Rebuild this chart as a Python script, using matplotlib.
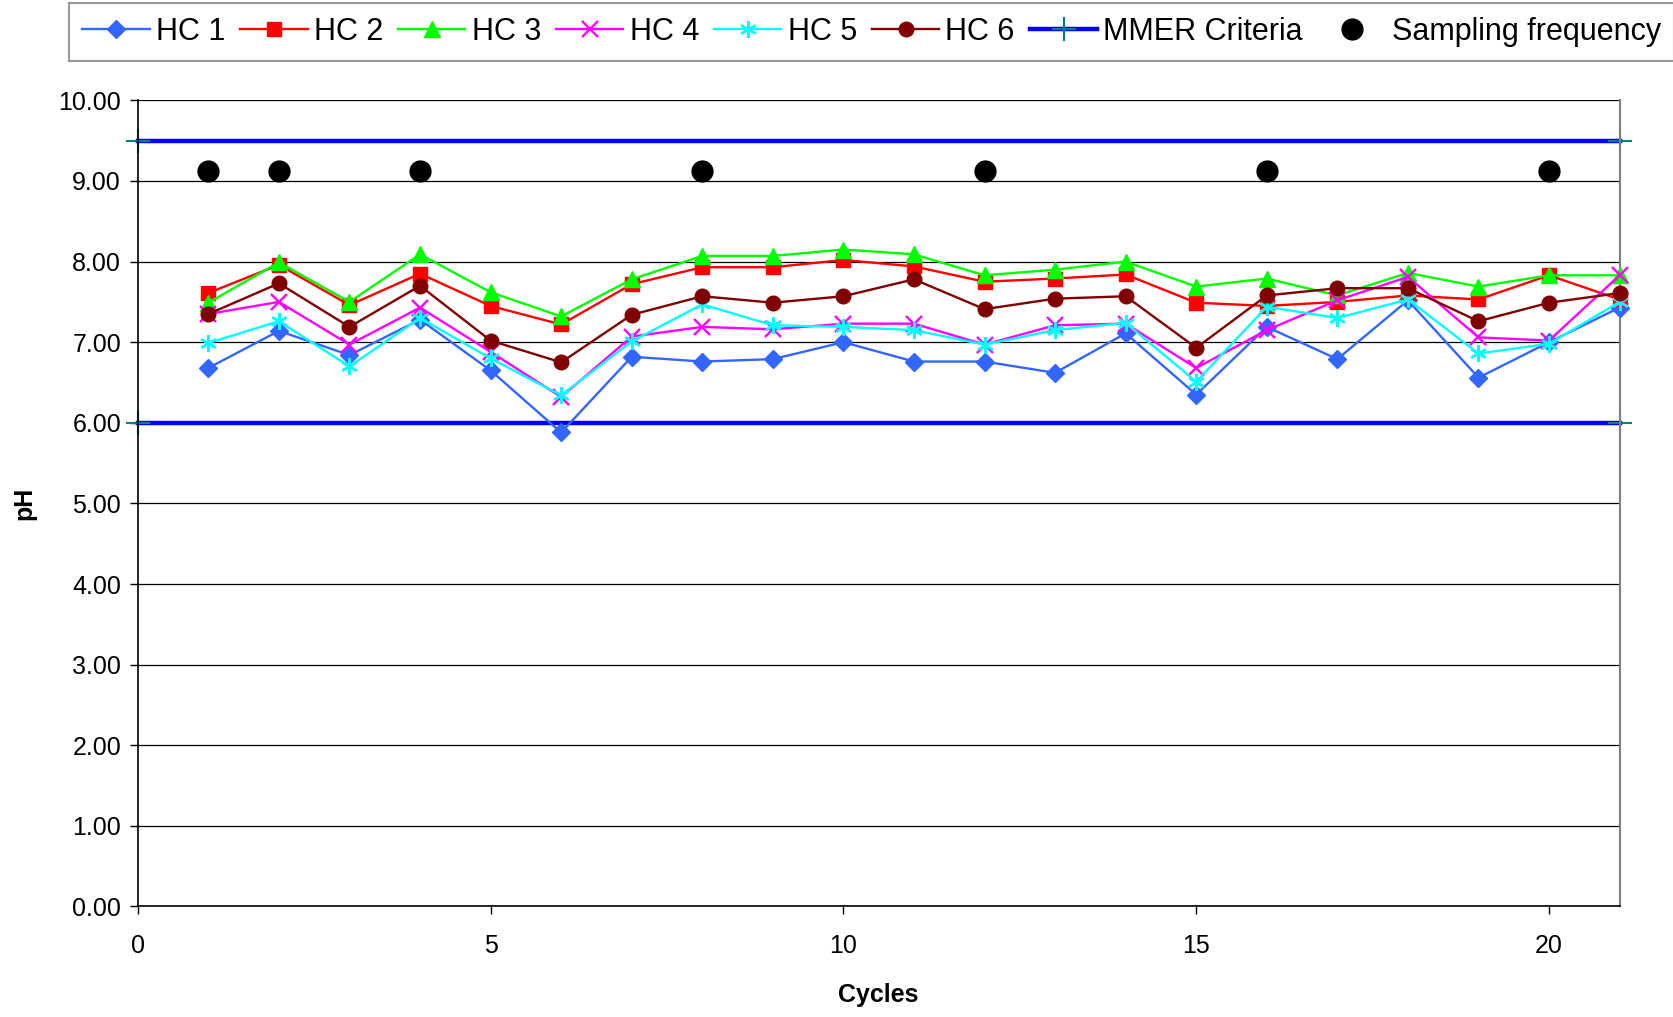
import numpy as np
import matplotlib
matplotlib.use("Agg")
import matplotlib.pyplot as plt

plt.rcParams['font.family'] = ['Liberation Sans', 'DejaVu Sans']

cycles = list(range(1, 22))
hc1 = [6.68, 7.14, 6.84, 7.28, 6.65, 5.88, 6.82, 6.76, 6.79, 7.00, 6.76, 6.76, 6.62, 7.11, 6.35, 7.19, 6.79, 7.52, 6.56, 7.00, 7.43]
hc2 = [7.61, 7.96, 7.46, 7.85, 7.45, 7.22, 7.72, 7.93, 7.93, 8.02, 7.94, 7.75, 7.79, 7.84, 7.49, 7.45, 7.50, 7.58, 7.53, 7.83, 7.53]
hc3 = [7.49, 7.99, 7.50, 8.09, 7.62, 7.32, 7.78, 8.07, 8.07, 8.15, 8.09, 7.83, 7.90, 8.00, 7.69, 7.79, 7.58, 7.86, 7.69, 7.83, 7.83]
hc4 = [7.35, 7.50, 6.97, 7.43, 6.88, 6.32, 7.07, 7.19, 7.16, 7.23, 7.23, 6.97, 7.21, 7.23, 6.68, 7.15, 7.52, 7.81, 7.06, 7.02, 7.83]
hc5 = [6.99, 7.26, 6.70, 7.30, 6.80, 6.34, 7.01, 7.47, 7.21, 7.19, 7.15, 6.97, 7.15, 7.24, 6.51, 7.44, 7.30, 7.53, 6.86, 6.98, 7.50]
hc6 = [7.35, 7.73, 7.19, 7.70, 7.02, 6.75, 7.34, 7.57, 7.49, 7.57, 7.78, 7.41, 7.54, 7.57, 6.93, 7.58, 7.67, 7.67, 7.26, 7.49, 7.61]

mmer_x = [0, 21, np.nan, 0, 21]
mmer_y = [9.5, 9.5, np.nan, 6.0, 6.0]

sampling_x = [1, 2, 4, 8, 12, 16, 20]
sampling_y = [9.12] * 7

series_labels = ['HC 1', 'HC 2', 'HC 3', 'HC 4', 'HC 5', 'HC 6']
y_ticks = [0, 1, 2, 3, 4, 5, 6, 7, 8, 9, 10]
x_ticks = [0, 5, 10, 15, 20]

fig = plt.figure(figsize=(16.74, 10.17), dpi=100)
ax = fig.add_axes([0.0823, 0.1087, 0.9675 - 0.0823, 0.9013 - 0.1087])

styles = [
    dict(color='#3366FF', marker='D', ms=9.5),
    dict(color='#FF0000', marker='s', ms=9.5),
    dict(color='#00FF00', marker='^', ms=11),
    dict(color='#FF00FF', marker='x', ms=11, mew=1.7),
    dict(color='#00FFFF', marker=(6, 2, 0), ms=12, mew=1.7),
    dict(color='#800000', marker='o', ms=10.5),
]
data = [hc1, hc2, hc3, hc4, hc5, hc6]
for d, lab, st in zip(data, series_labels, styles):
    ax.plot(cycles, d, label=lab, lw=1.7, clip_on=False, zorder=3, **st)

ax.plot(mmer_x, mmer_y, color='#0000FF', lw=3.2, marker='+', ms=17, mew=1.5,
        mec='#008080', label='MMER Criteria', clip_on=False, zorder=2.5)
ax.plot(sampling_x, sampling_y, ls='none', marker='o', ms=15, color='black',
        label='Sampling frequency', zorder=4)

ax.set_xlim(0, 21)
ax.set_ylim(0, 10)
ax.set_yticks(y_ticks)
ax.set_yticklabels([f'{v:.2f}' for v in y_ticks])
ax.set_xticks(x_ticks)
ax.yaxis.grid(True, color='black', lw=0.9)
ax.set_axisbelow(True)
for s in ['left', 'bottom']:
    ax.spines[s].set_color('black')
    ax.spines[s].set_linewidth(1.2)
ax.spines['top'].set_visible(False)
ax.spines['right'].set_color('#808080')
ax.spines['right'].set_linewidth(1.5)
ax.tick_params(axis='both', labelsize=18, length=6, width=1, direction='out', colors='black')
ax.tick_params(axis='x', pad=14)
ax.tick_params(axis='y', pad=6)

ax.set_xlabel('Cycles', fontsize=18, fontweight='bold', labelpad=18)
ax.set_ylabel('pH', fontsize=18, fontweight='bold', labelpad=16)

leg = fig.legend(loc='upper left', bbox_to_anchor=(0.041, 0.997), ncol=8,
                 fontsize=22, frameon=True, fancybox=False, edgecolor='#808080',
                 handlelength=2.2, handletextpad=0.2, columnspacing=0.5,
                 borderpad=0.45, borderaxespad=0)
leg.get_frame().set_linewidth(1.5)

fig.savefig('out.png', dpi=100)
